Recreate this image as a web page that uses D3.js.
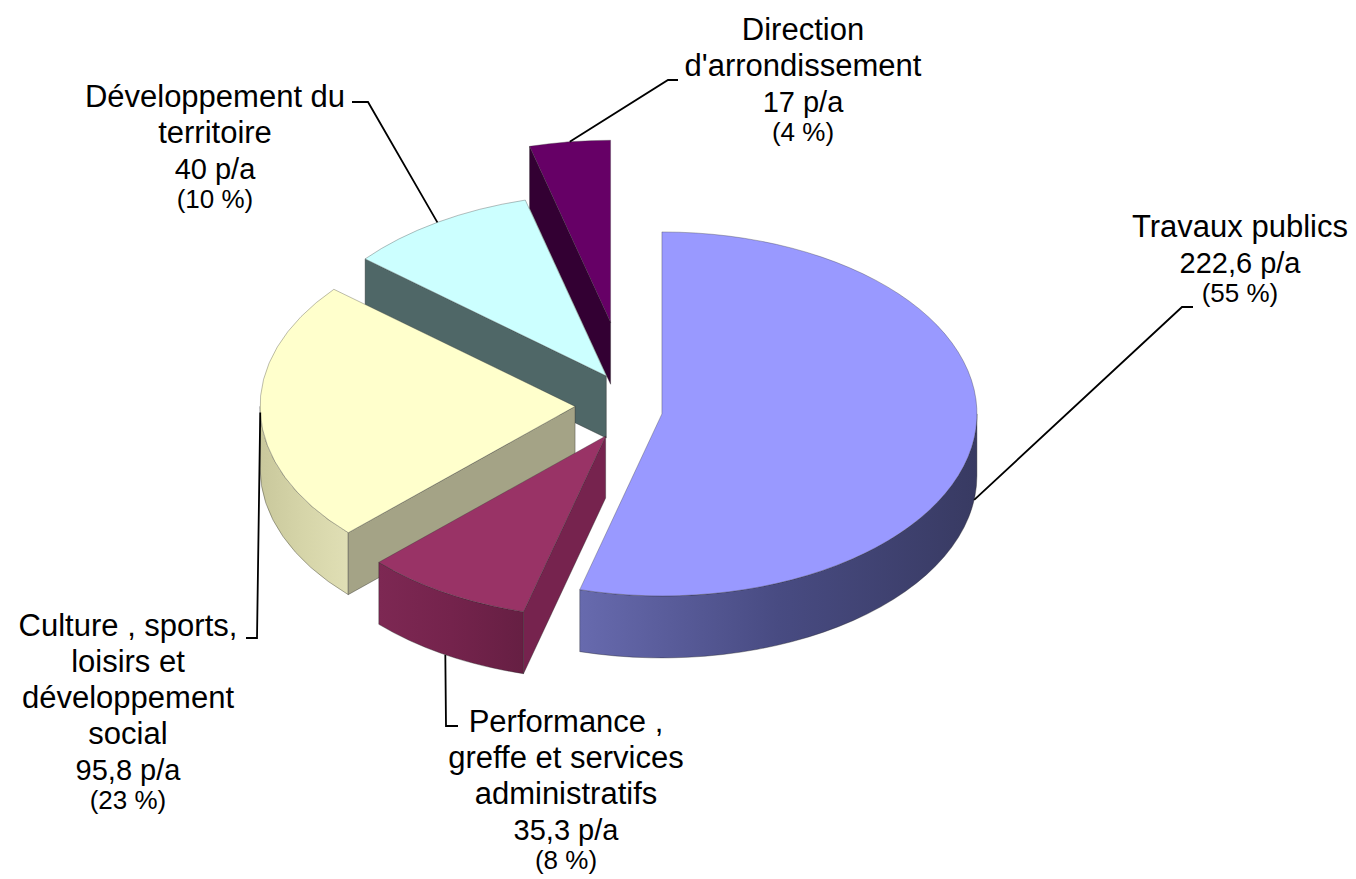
<!DOCTYPE html>
<html>
<head>
<meta charset="utf-8">
<script src="https://cdn.jsdelivr.net/npm/d3@7"></script>
<style>
  body { margin: 0; background: #fff; }
  svg { display: block; }
</style>
</head>
<body>
<div id="chart"></div>
<script>

/////////////////////////////////////////////////////////////////////////////
                      ///////    Data    ///////
/////////////////////////////////////////////////////////////////////////////

var categories = ['Travaux publics',
                  'Performance , greffe et services administratifs',
                  'Culture , sports, loisirs et développement social',
                  'Développement du territoire',
                  "Direction d'arrondissement"];

// how the category names wrap in the labels
var label_lines = [['Travaux publics'],
                   ['Performance ,', 'greffe et services', 'administratifs'],
                   ['Culture , sports,', 'loisirs et', 'développement', 'social'],
                   ['Développement du', 'territoire'],
                   ['Direction', "d'arrondissement"]];

var values = [222.6, 35.3, 95.8, 40, 17];      // postes autorisés (p/a)
var percents = [55, 8, 23, 10, 4];             // as printed on the chart

/////////////////////////////////////////////////////////////////////////////
                      ///////    Layout & style    ///////
/////////////////////////////////////////////////////////////////////////////

var w = 1356, h = 879;

var cx = 617, cy = 404;       // pie centre before explosion
var rx = 315, ry = 182;       // ellipse of the top face
var depth = 62;               // thickness of the pie
var skew = 0.6;               // explosion is flatter sideways (perspective)

var explode = [46, 34, 42, 30, 82];

var top_colors  = ['#9999ff', '#993366', '#ffffcc', '#ccffff', '#660066'];
var side_colors = ['#3a3b64', '#76234e', '#a4a386', '#4f6767', '#330033'];
var wall_grad   = [['#676aae', '#484b82', '#383a62'],
                   ['#7d2853', '#74234c', '#661f43'],
                   ['#c9c89c', '#d6d5a9', '#e0dfb5'],
                   ['#4f6767', '#4f6767', '#4f6767'],
                   ['#330033', '#330033', '#330033']];

var label_pos = [[1240, 237], [566, 732], [128, 636], [215, 107], [803, 40]];
var leader_elbows = [[[1182, 307], [1193, 307]],
                     [[446, 726], [458, 726]],
                     [[257, 638], [246, 638]],
                     [[368, 102], [352, 102]],
                     [[668, 80], [678, 80]]];
var leader_from_bottom = [true, true, false, false, false];

var name_size = 31, value_size = 29, pct_size = 26;
var line_gap = 36, pct_gap = 29;

/////////////////////////////////////////////////////////////////////////////
                      ///////    Set Up Chart    ///////
/////////////////////////////////////////////////////////////////////////////

var svg = d3.select('#chart').append('svg')
            .attr('width', w).attr('height', h)
            .attr('xmlns', 'http://www.w3.org/2000/svg');

var defs = svg.append('defs');

var arcs = d3.pie().sort(null).value(d => d)(values);

var slices = arcs.map((a, i) => {
    var m = (a.startAngle + a.endAngle) / 2;
    var dx = skew * Math.sin(m), dy = -Math.cos(m);
    var n = Math.hypot(dx, dy);
    return {i: i, a0: a.startAngle, a1: a.endAngle, m: m,
            ox: cx + explode[i] * dx / n,
            oy: cy + explode[i] * dy / n};
});

let pt = (s, t, z) => [s.ox + rx * Math.sin(t), s.oy - ry * Math.cos(t) + (z || 0)];
let P = (p) => p[0].toFixed(2) + ',' + p[1].toFixed(2);

function top_path(s) {
    var large = (s.a1 - s.a0) > Math.PI ? 1 : 0;
    return 'M' + s.ox + ',' + s.oy + 'L' + P(pt(s, s.a0)) +
           'A' + rx + ',' + ry + ' 0 ' + large + ' 1 ' + P(pt(s, s.a1)) + 'Z';
}

function outer_wall_path(s) {
    var a = Math.max(s.a0, Math.PI / 2), b = Math.min(s.a1, 3 * Math.PI / 2);
    if (a >= b) return null;
    return 'M' + P(pt(s, a)) + 'A' + rx + ',' + ry + ' 0 0 1 ' + P(pt(s, b)) +
           'L' + P(pt(s, b, depth)) + 'A' + rx + ',' + ry + ' 0 0 0 ' + P(pt(s, a, depth)) + 'Z';
}

function radial_wall_path(s, t) {
    var c0 = [s.ox, s.oy], c1 = [s.ox, s.oy + depth];
    return 'M' + P(c0) + 'L' + P(pt(s, t)) + 'L' + P(pt(s, t, depth)) + 'L' + P(c1) + 'Z';
}

// back slices first
var order = slices.slice().sort((a, b) => a.oy - b.oy);

var g = svg.append('g');

order.forEach(s => {
    var sg = g.append('g').attr('class', 'slice');
    var grad = defs.append('linearGradient').attr('id', 'wall' + s.i)
                   .attr('x1', 0).attr('x2', 1).attr('y1', 0).attr('y2', 0);
    wall_grad[s.i].forEach((c, k) => grad.append('stop')
        .attr('offset', k / (wall_grad[s.i].length - 1)).attr('stop-color', c));

    var ow = outer_wall_path(s);
    if (ow) {
        sg.append('path').attr('d', ow)
          .attr('fill', 'url(#wall' + s.i + ')')
          .attr('stroke', '#222').attr('stroke-width', 0.6).attr('stroke-opacity', 0.6);
    }
    if (Math.sin(s.a0) < -1e-6) {
        sg.append('path').attr('d', radial_wall_path(s, s.a0))
          .attr('fill', side_colors[s.i])
          .attr('stroke', '#222').attr('stroke-width', 0.6).attr('stroke-opacity', 0.6);
    }
    if (Math.sin(s.a1) > 1e-6) {
        sg.append('path').attr('d', radial_wall_path(s, s.a1))
          .attr('fill', side_colors[s.i])
          .attr('stroke', '#222').attr('stroke-width', 0.6).attr('stroke-opacity', 0.6);
    }
    sg.append('path').attr('d', top_path(s))
      .attr('fill', top_colors[s.i])
      .attr('stroke', '#333').attr('stroke-width', 0.6).attr('stroke-opacity', 0.55);
});

/////////////////////////////////////////////////////////////////////////////
                      ///////    Labels    ///////
/////////////////////////////////////////////////////////////////////////////

var fmt = (v) => String(v).replace('.', ',') + ' p/a';

slices.forEach(s => {
    var i = s.i;
    var start = pt(s, s.m, leader_from_bottom[i] ? depth : 0);
    var pts = [start].concat(leader_elbows[i]);
    g.append('path')
     .attr('d', d3.line()(pts))
     .attr('fill', 'none').attr('stroke', '#000').attr('stroke-width', 1.8);

    var lines = label_lines[i].map(t => ({t: t, size: name_size, gap: line_gap}))
        .concat([{t: fmt(values[i]), size: value_size, gap: line_gap},
                 {t: '(' + percents[i] + ' %)', size: pct_size, gap: pct_gap}]);
    var txt = g.append('text')
               .attr('font-family', '"Liberation Sans", Arial, sans-serif')
               .attr('text-anchor', 'middle')
               .attr('fill', '#000');
    var y = label_pos[i][1];
    lines.forEach((l, k) => {
        if (k > 0) y += l.gap;
        txt.append('tspan').attr('x', label_pos[i][0]).attr('y', y)
           .attr('font-size', l.size).text(l.t);
    });
});

</script>
</body>
</html>
